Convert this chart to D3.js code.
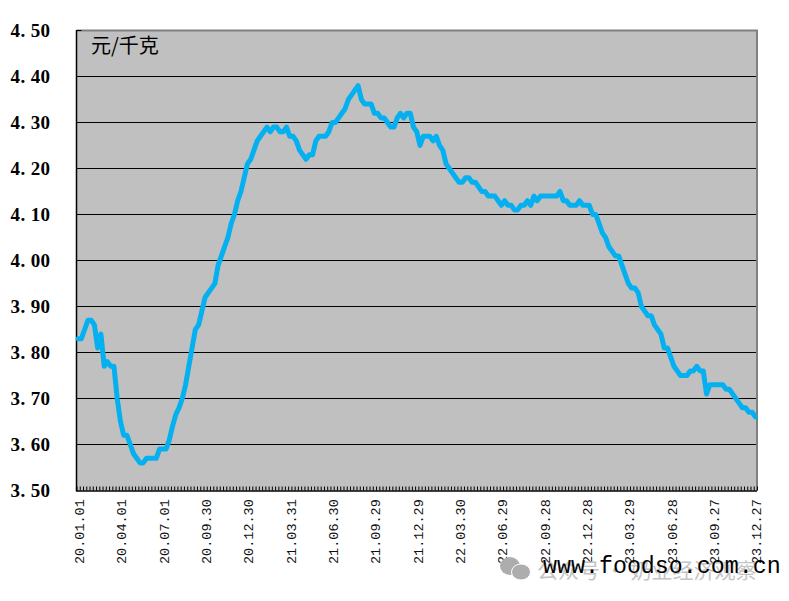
<!DOCTYPE html>
<html><head><meta charset="utf-8">
<script src="https://cdn.jsdelivr.net/npm/d3@7"></script>
<style>html,body{margin:0;background:#fff}svg{display:block}</style></head>
<body><div id="chart"></div>
<script>
const yTicks=[3.5,3.6,3.7,3.8,3.9,4.0,4.1,4.2,4.3,4.4,4.5];
const unitLabel="元/千克";
const tickLabels=["20.01.01","20.04.01","20.07.01","20.09.30","20.12.30","21.03.31","21.06.30","21.09.29","21.12.29","22.03.30","22.06.29","22.09.28","22.12.28","23.03.29","23.06.28","23.09.27","23.12.27"];
const prices=[3.83,3.83,3.85,3.87,3.87,3.86,3.81,3.84,3.77,3.78,3.77,3.77,3.70,3.65,3.62,3.62,3.60,3.58,3.57,3.56,
3.56,3.57,3.57,3.57,3.57,3.59,3.59,3.59,3.61,3.64,3.665,3.68,3.70,3.73,3.77,3.81,3.85,3.86,3.89,3.92,
3.93,3.94,3.95,3.99,4.01,4.03,4.05,4.08,4.10,4.13,4.15,4.18,4.21,4.22,4.24,4.26,4.27,4.28,4.29,4.28,
4.29,4.29,4.28,4.28,4.29,4.27,4.27,4.26,4.24,4.23,4.22,4.23,4.23,4.26,4.27,4.27,4.27,4.28,4.30,4.30,
4.31,4.32,4.33,4.35,4.36,4.37,4.38,4.35,4.34,4.34,4.34,4.32,4.32,4.31,4.31,4.30,4.29,4.29,4.31,4.32,
4.31,4.32,4.32,4.29,4.28,4.25,4.27,4.27,4.27,4.26,4.27,4.25,4.24,4.21,4.20,4.19,4.18,4.17,4.17,4.18,
4.18,4.17,4.17,4.16,4.15,4.15,4.14,4.14,4.14,4.13,4.12,4.13,4.12,4.12,4.11,4.11,4.12,4.12,4.13,4.12,
4.14,4.13,4.14,4.14,4.14,4.14,4.14,4.14,4.15,4.13,4.13,4.12,4.12,4.12,4.13,4.12,4.12,4.12,4.10,4.10,
4.08,4.06,4.05,4.03,4.02,4.01,4.01,3.99,3.97,3.95,3.94,3.94,3.93,3.90,3.89,3.88,3.88,3.86,3.85,3.84,
3.81,3.81,3.79,3.77,3.76,3.75,3.75,3.75,3.76,3.76,3.77,3.76,3.76,3.71,3.73,3.73,3.73,3.73,3.73,3.72,
3.72,3.71,3.70,3.69,3.68,3.68,3.67,3.67,3.66];
const labelEvery=13;
const watermark="公众号 · 奶业经济观察";
const site="www.foodso.com.cn";

const W=789,H=601,L=76.5,R=757,T=30.5,B=490.5;
const svg=d3.select("#chart").append("svg").attr("width",W).attr("height",H).attr("viewBox",[0,0,W,H]);
const x=d3.scaleBand().domain(d3.range(prices.length)).range([L,R]);
const edge=d3.scaleLinear().domain([0,prices.length]).range([L,R]);
const y=d3.scaleLinear().domain([3.5,4.5]).range([B,T]);

svg.append("rect").attr("x",L).attr("y",T).attr("width",R-L).attr("height",B-T).attr("fill","#c0c0c0");
svg.append("g").selectAll("line").data(yTicks.filter(v=>v>3.5&&v<4.5)).join("line")
  .attr("x1",L).attr("x2",R).attr("y1",d=>Math.floor(y(d))+.5).attr("y2",d=>Math.floor(y(d))+.5)
  .attr("stroke","#000").attr("stroke-width",1);
svg.append("path").attr("d",`M${L},${T}H${R}V${B}`).attr("fill","none").attr("stroke","#808080").attr("stroke-width",2);

const ax=svg.append("g").attr("transform",`translate(0,${B})`)
  .call(d3.axisBottom(edge).tickValues(d3.range(prices.length+1)).tickSize(-4).tickFormat(""));
ax.selectAll(".tick line").attr("stroke","#000").attr("stroke-width",1);
ax.select(".domain").attr("stroke","#000").attr("stroke-width",1.5).attr("d",`M${L},0.5H${R}`);
svg.append("line").attr("x1",L).attr("x2",L).attr("y1",T-.5).attr("y2",B+1).attr("stroke","#000").attr("stroke-width",1.5);
svg.append("line").attr("x1",L).attr("x2",L+5).attr("y1",T).attr("y2",T).attr("stroke","#000");

svg.append("g").selectAll("text").data(yTicks).join("text")
  .attr("x",10.5).attr("y",d=>y(d)+6.5)
  .attr("font-family","'Liberation Serif',serif").attr("font-weight","bold").attr("font-size",19)
  .attr("letter-spacing",.4).attr("fill","#000")
  .text(d=>d.toFixed(2).replace(".",". "));

svg.append("g").selectAll("text").data(tickLabels).join("text")
  .attr("transform",(d,i)=>`translate(${x(i*labelEvery)+x.bandwidth()/2+6},564) rotate(-90)`)
  .attr("font-family","'Liberation Mono',monospace").attr("font-size",13.5).attr("fill","#111")
  .text(d=>d);

svg.append("path").datum(prices)
  .attr("d",d3.line().x((d,i)=>x(i)+x.bandwidth()/2).y(d=>y(d)))
  .attr("fill","none").attr("stroke","#05b0f0").attr("stroke-width",5)
  .attr("stroke-linejoin","round").attr("stroke-linecap","round");

svg.append("text").attr("x",91).attr("y",53).attr("font-family","'Noto Sans CJK SC',sans-serif")
  .attr("font-size",20).attr("fill","#000").attr("font-weight",400).text(unitLabel);

const wm=svg.append("g").attr("fill","#adadad");
wm.append("ellipse").attr("cx",510).attr("cy",566).attr("rx",10).attr("ry",9);
wm.append("ellipse").attr("cx",521).attr("cy",572).attr("rx",9.5).attr("ry",8).attr("stroke","#fff").attr("stroke-width",1);
svg.append("text").attr("x",537).attr("y",578).attr("font-family","'Noto Sans CJK SC',sans-serif")
  .attr("font-size",21).attr("fill","#c4c4c4").text(watermark);
svg.append("text").attr("x",543).attr("y",573).attr("font-family","'Liberation Mono',monospace")
  .attr("font-size",23.3).attr("fill","#000").text(site);
</script></body></html>
